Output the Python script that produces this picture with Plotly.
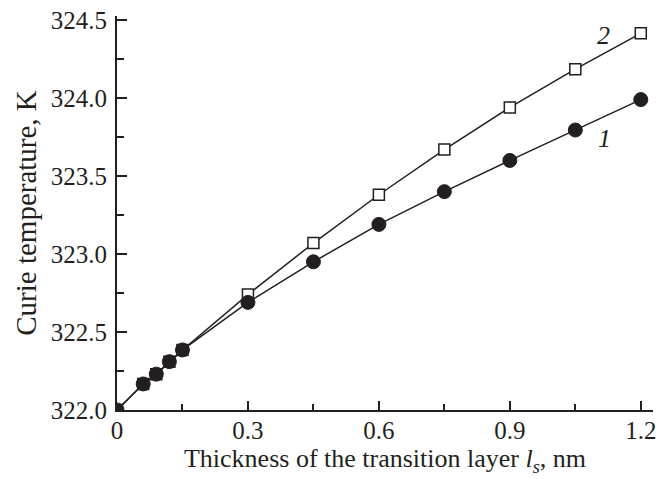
import plotly.graph_objects as go

x_vals = [0.0, 0.06, 0.09, 0.12, 0.15, 0.30, 0.45, 0.60, 0.75, 0.90, 1.05, 1.20]
curve1 = [322.0, 322.167, 322.23, 322.31, 322.385, 322.69, 322.95, 323.19, 323.40, 323.60, 323.795, 323.99]
curve2 = [322.0, 322.167, 322.23, 322.31, 322.385, 322.74, 323.07, 323.38, 323.67, 323.94, 324.185, 324.415]

x_ticks = [0, 0.3, 0.6, 0.9, 1.2]
x_ticklabels = ["0", "0.3", "0.6", "0.9", "1.2"]
y_ticks = [322.0, 322.5, 323.0, 323.5, 324.0, 324.5]
y_ticklabels = ["322.0", "322.5", "323.0", "323.5", "324.0", "324.5"]

ink = "#231f20"
font_family = "Liberation Serif, Times New Roman, serif"

fig = go.Figure()
fig.add_trace(go.Scatter(
    x=x_vals, y=curve2, mode="lines+markers",
    line=dict(color=ink, width=1.5),
    marker=dict(symbol="square", size=11, color="white", line=dict(color=ink, width=1.5)),
    showlegend=False,
))
fig.add_trace(go.Scatter(
    x=x_vals, y=curve1, mode="lines+markers",
    line=dict(color=ink, width=1.5),
    marker=dict(symbol="circle", size=14, color=ink, line=dict(color=ink, width=1)),
    showlegend=False,
))

fig.add_annotation(x=1.114, y=324.40, text="<i>2</i>", showarrow=False,
                   font=dict(family=font_family, size=26, color=ink))
fig.add_annotation(x=1.118, y=323.74, text="<i>1</i>", showarrow=False,
                   font=dict(family=font_family, size=26, color=ink))

fig.update_layout(
    width=664, height=471,
    margin=dict(l=109, r=19, t=8, b=69),
    paper_bgcolor="white", plot_bgcolor="white",
    font=dict(family=font_family, color=ink, size=22),
)
fig.update_xaxes(
    range=[0, 1.228], showgrid=False, zeroline=False, automargin=False,
    showline=True, linecolor=ink, linewidth=2,
    tickmode="array", tickvals=x_ticks, ticktext=x_ticklabels,
    ticks="inside", ticklen=9, tickwidth=1.5, tickcolor=ink,
    minor=dict(tickvals=[0.15, 0.45, 0.75, 1.05], ticks="inside", ticklen=6, tickwidth=1.5, tickcolor=ink),
    tickfont=dict(size=25, family=font_family, color=ink),
    ticklabelstandoff=-3, ticklabeloverflow="allow",
    title=dict(text="Thickness of the transition layer <i>l</i><sub><i>s</i></sub>, nm",
               font=dict(size=26, family=font_family, color=ink), standoff=6),
)
fig.update_yaxes(
    range=[322.0, 324.526], showgrid=False, zeroline=False, automargin=False,
    showline=True, linecolor=ink, linewidth=2,
    tickmode="array", tickvals=y_ticks, ticktext=y_ticklabels,
    ticks="inside", ticklen=10, tickwidth=1.5, tickcolor=ink,
    minor=dict(tickvals=[322.25, 322.75, 323.25, 323.75, 324.25], ticks="inside", ticklen=7, tickwidth=1.5, tickcolor=ink),
    tickfont=dict(size=25, family=font_family, color=ink),
    ticklabelstandoff=3, ticklabeloverflow="allow",
    title=dict(text="Curie temperature, K",
               font=dict(size=29, family=font_family, color=ink), standoff=6),
)

fig.write_html("out.html")
